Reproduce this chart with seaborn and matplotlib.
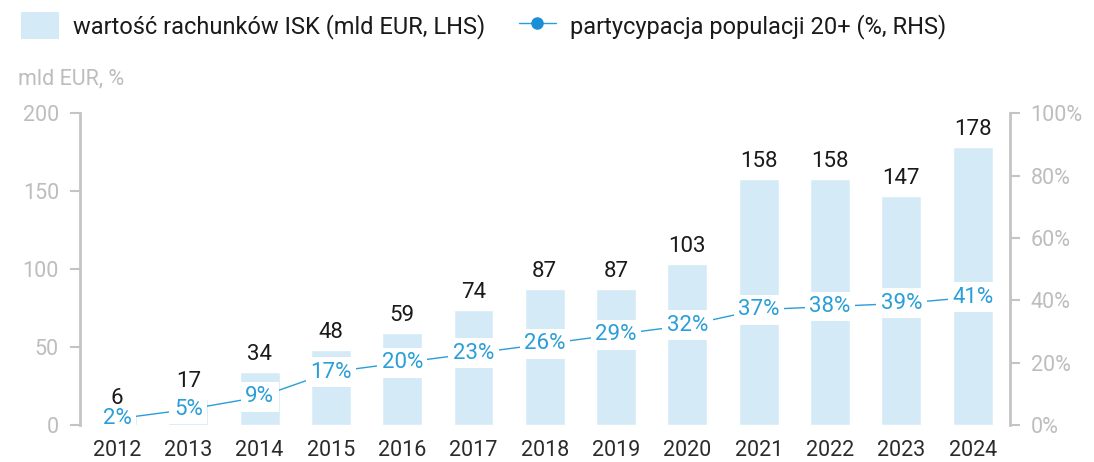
import numpy as np
import pandas as pd
import matplotlib
matplotlib.use("Agg")
import matplotlib.pyplot as plt
import seaborn as sns
from matplotlib.patches import Patch
from matplotlib.lines import Line2D

# === Data ===
years = ["2012", "2013", "2014", "2015", "2016", "2017", "2018",
         "2019", "2020", "2021", "2022", "2023", "2024"]
isk_value = [6, 17, 34, 48, 59, 74, 87, 87, 103, 158, 158, 147, 178]
participation = [2, 5, 9, 17, 20, 23, 26, 29, 32, 37, 38, 39, 41]

bar_label = "wartość rachunków ISK (mld EUR, LHS)"
line_label = "partycypacja populacji 20+ (%, RHS)"

df = pd.DataFrame({"year": years, "value": isk_value, "part": participation})

BAR_COLOR = "#d4eaf6"
LINE_COLOR = "#2a9ed8"
AXIS_GREY = "#c4c4c4"

sns.set_style("white")
plt.rcParams["font.family"] = ["Roboto", "DejaVu Sans"]

fig = plt.figure(figsize=(10.94, 4.62), dpi=100)
ax = fig.add_axes([0.073, 0.08, 0.85, 0.675])

sns.barplot(data=df, x="year", y="value", color=BAR_COLOR, width=0.56,
            saturation=1, ax=ax, zorder=1)
ax.set_xlim(-0.52, len(years) - 0.48)
ax.set_ylim(0, 200)
ax.set_yticks([0, 50, 100, 150, 200])
ax.set_xlabel("")
ax.set_ylabel("")

for i, v in enumerate(isk_value):
    ax.text(i, v + 4.5, str(v), ha="center", va="bottom", fontsize=16, color="#1a1a1a")

ax2 = ax.twinx()
sns.lineplot(x=np.arange(len(years)), y=participation, color=LINE_COLOR,
             linewidth=1, ax=ax2, zorder=3)
ax2.set_ylim(0, 100)
ax2.set_yticks([0, 20, 40, 60, 80, 100])
ax2.set_yticklabels([f"{t}%" for t in [0, 20, 40, 60, 80, 100]])

for i, p in enumerate(participation):
    ax2.text(i, p, f"{p}%", ha="center", va="center", fontsize=16, color=LINE_COLOR,
             bbox=dict(boxstyle="square,pad=0.2", fc="white", ec="none"), zorder=4)

for a in (ax, ax2):
    for s in ["top", "bottom"]:
        a.spines[s].set_visible(False)
    a.tick_params(axis="y", colors=AXIS_GREY, labelsize=15.5, length=7, width=1.5,
                  direction="out", pad=8)
ax.spines["left"].set_color(AXIS_GREY)
ax.spines["left"].set_linewidth(2)
ax.spines["right"].set_visible(False)
ax2.spines["left"].set_visible(False)
ax2.spines["right"].set_color(AXIS_GREY)
ax2.spines["right"].set_linewidth(2)
ax.tick_params(axis="x", length=0, labelsize=15.5, labelcolor="#2b2b2b", pad=11)
for lbl in ax.get_yticklabels() + ax2.get_yticklabels():
    lbl.set_color("#bdbdbd")

fig.text(0.016, 0.83, "mld EUR, %", fontsize=15.5, color="#bdbdbd", va="center")

handles = [
    Patch(facecolor=BAR_COLOR, edgecolor="none", label=bar_label),
    Line2D([0], [0], color=LINE_COLOR, linewidth=1, marker="o", markersize=8,
           markeredgecolor="#1a8fd8", markerfacecolor="#1a8fd8", label=line_label),
]
fig.legend(handles=handles, loc="upper left", bbox_to_anchor=(0.0, 1.02), ncol=2,
           frameon=False, fontsize=17, handlelength=1.6, handleheight=1.4,
           columnspacing=1.4, handletextpad=0.6, labelcolor="#1a1a1a")

fig.savefig("out.png", dpi=100)
